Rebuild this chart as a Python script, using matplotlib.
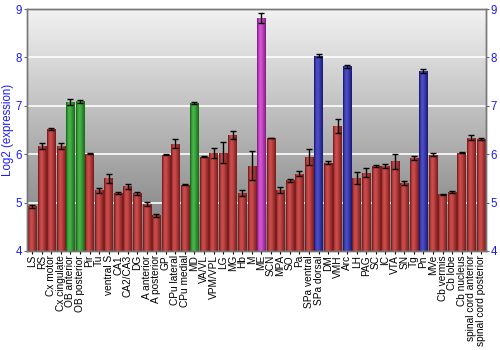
import numpy as np
import matplotlib
matplotlib.use("Agg")
import matplotlib.pyplot as plt
from matplotlib.colors import LinearSegmentedColormap

plt.rcParams['font.family'] = ['Liberation Sans', 'DejaVu Sans']

regions = ["LS", "RS", "Cx motor", "Cx cingulate", "OB anterior", "OB posterior",
           "Pir", "Tu", "ventral S", "CA1", "CA2/CA3", "DG", "A anterior",
           "A posterior", "GP", "CPu lateral", "CPu medial", "MD", "VA/VL",
           "VPM/VPL", "LG", "MG", "Hb", "M", "ME", "SCN", "MPA", "SO", "Pa",
           "SPa ventral", "SPa dorsal", "DM", "VMH", "Arc", "LH", "PAG", "SC",
           "IC", "VTA", "SN", "Tg", "Pn", "MVe", "Cb vermis", "Cb lobe",
           "Cb nucleus", "spinal cord anterior", "spinal cord posterior"]

expression = [4.92, 6.17, 6.52, 6.17, 7.08, 7.09, 6.01, 5.25, 5.50, 5.20, 5.34,
              5.19, 4.97, 4.74, 5.99, 6.22, 5.37, 7.05, 5.95, 6.03, 6.03, 6.39,
              5.20, 5.76, 8.81, 6.34, 5.26, 5.46, 5.60, 5.94, 8.04, 5.82, 6.58,
              7.82, 5.51, 5.62, 5.75, 5.75, 5.85, 5.40, 5.92, 7.72, 5.99, 5.17,
              5.22, 6.03, 6.34, 6.32]

errors = [0.03, 0.07, 0.02, 0.07, 0.07, 0.03, 0.01, 0.05, 0.10, 0.02, 0.05,
          0.03, 0.04, 0.03, 0.005, 0.10, 0.01, 0.02, 0.005, 0.10, 0.22, 0.08,
          0.07, 0.30, 0.10, 0.005, 0.07, 0.03, 0.05, 0.17, 0.03, 0.03, 0.15,
          0.03, 0.12, 0.10, 0.02, 0.04, 0.15, 0.04, 0.05, 0.05, 0.03, 0.01,
          0.02, 0.01, 0.05, 0.02]

# highlighted regions, everything else is red
green_regions = ["OB anterior", "OB posterior", "MD"]
blue_regions = ["SPa dorsal", "Arc", "Pn"]
magenta_regions = ["ME"]

palette = {
    "r": ("#7e1f1f", "#cc4c4c"),
    "g": ("#1c6e1c", "#48b448"),
    "b": ("#1e1e78", "#4c4cc8"),
    "m": ("#8a208a", "#d455d4"),
}


def group_of(name):
    if name in green_regions:
        return "g"
    if name in blue_regions:
        return "b"
    if name in magenta_regions:
        return "m"
    return "r"


fig = plt.figure(figsize=(5, 3.5), dpi=100)
ax = fig.add_axes([0.054, 0.283, 0.918, 0.691])

x = np.arange(len(regions))
ax.set_xlim(-0.55, len(regions) - 0.45)
ax.set_ylim(4, 9)

# gray gradient background
bg = LinearSegmentedColormap.from_list("bg", ["#7a7a7a", "#f2f2f2"])
ax.imshow(np.linspace(0, 1, 256).reshape(-1, 1), cmap=bg, aspect="auto",
          extent=[0, 1, 0, 1], transform=ax.transAxes, origin="lower", zorder=0)

for y in [5, 6, 7, 8]:
    ax.axhline(y, color="white", lw=1.2, zorder=1)

bars = ax.bar(x, np.array(expression) - 4, bottom=4, width=0.88, zorder=2,
              linewidth=0)
grad = np.array([0.0, 0.55, 0.85, 1.0, 0.9, 0.7, 0.45, 0.25, 0.0]).reshape(1, -1)
for bar, name in zip(bars, regions):
    g = group_of(name)
    dark, light = palette[g]
    cmap = LinearSegmentedColormap.from_list("c" + g, [dark, light])
    bx, by = bar.get_x(), bar.get_y()
    im = ax.imshow(grad, cmap=cmap, aspect="auto", vmin=0, vmax=1,
                   extent=[bx, bx + bar.get_width(), by, by + bar.get_height()],
                   zorder=2, interpolation="bilinear")
    im.set_clip_path(bar)
    bar.set_facecolor("none")

ax.errorbar(x, expression, yerr=errors, fmt="none", ecolor="black",
            elinewidth=1, capsize=2, capthick=1, zorder=3)

ax.set_xticks(x)
ax.set_xticklabels(regions, rotation=90, fontsize=7.3)
ax.tick_params(axis="x", length=2, pad=1)
ax.set_yticks([4, 5, 6, 7, 8, 9])
ax.tick_params(axis="y", colors="#666666", labelcolor="#1a1aff", labelsize=8.3,
               length=2, pad=1.5)
fig.text(0.017, 0.629, "Log2 (expression)", color="#1a1aff", fontsize=8.3,
         rotation=90, ha="center", va="center")

ax2 = ax.twinx()
ax2.set_ylim(4, 9)
ax2.set_yticks([4, 5, 6, 7, 8, 9])
ax2.tick_params(axis="y", colors="#666666", labelcolor="#1a1aff", labelsize=8.3,
                length=2, pad=1.5)

for a in (ax, ax2):
    for s in a.spines.values():
        s.set_color("#777777")
        s.set_linewidth(1)
ax.set_ylim(4, 9)

fig.savefig("out.png", dpi=100)
